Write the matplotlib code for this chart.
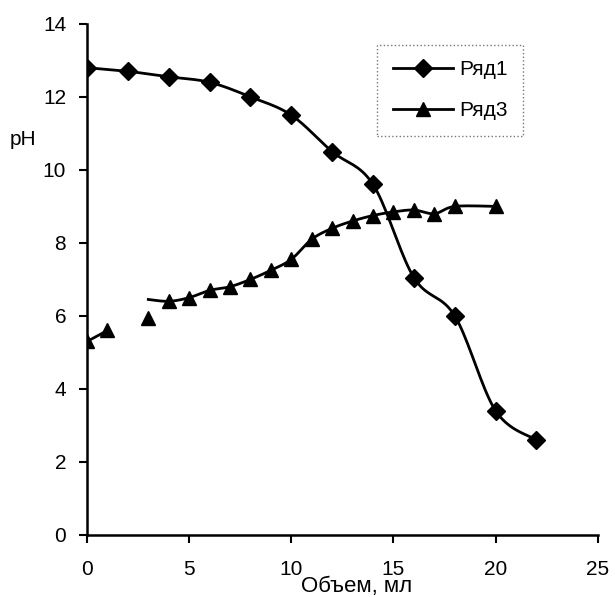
import numpy as np
from matplotlib import pyplot as plt

plt.rcParams['font.family'] = ['Liberation Sans', 'DejaVu Sans']

# Ряд1 (diamonds)
vol1 = [0, 2, 4, 6, 8, 10, 12, 14, 16, 18, 20, 22]
ph1 = [12.8, 12.7, 12.55, 12.4, 12.0, 11.5, 10.5, 9.6, 7.05, 6.0, 3.4, 2.6]

# Ряд3 (triangles)
vol3 = [0, 1, 3, 4, 5, 6, 7, 8, 9, 10, 11, 12, 13, 14, 15, 16, 17, 18, 20]
ph3 = [5.3, 5.6, 5.95, 6.4, 6.5, 6.7, 6.8, 7.0, 7.25, 7.55, 8.1, 8.4, 8.6,
       8.75, 8.85, 8.9, 8.8, 9.0, 9.0]
# the smoothed line of Ряд3 is broken after x=1 and restarts near x=3
line3_start = (3, 6.45)

xticks = [0, 5, 10, 15, 20, 25]
yticks = [0, 2, 4, 6, 8, 10, 12, 14]


def smooth(xs, ys, n=20):
    # Catmull-Rom style smoothing, like the "smoothed line" option in Excel
    xs = np.asarray(xs, float)
    ys = np.asarray(ys, float)
    px = np.concatenate([[xs[0]], xs, [xs[-1]]])
    py = np.concatenate([[ys[0]], ys, [ys[-1]]])
    out_x, out_y = [], []
    t = np.linspace(0, 1, n)
    for i in range(1, len(px) - 2):
        p0x, p1x, p2x, p3x = px[i - 1], px[i], px[i + 1], px[i + 2]
        p0y, p1y, p2y, p3y = py[i - 1], py[i], py[i + 1], py[i + 2]
        c1x = p1x + (p2x - p0x) / 6
        c1y = p1y + (p2y - p0y) / 6
        c2x = p2x - (p3x - p1x) / 6
        c2y = p2y - (p3y - p1y) / 6
        bx = (1 - t) ** 3 * p1x + 3 * (1 - t) ** 2 * t * c1x + 3 * (1 - t) * t ** 2 * c2x + t ** 3 * p2x
        by = (1 - t) ** 3 * p1y + 3 * (1 - t) ** 2 * t * c1y + 3 * (1 - t) * t ** 2 * c2y + t ** 3 * p2y
        out_x.extend(bx)
        out_y.extend(by)
    return out_x, out_y


fig = plt.figure(figsize=(6.15, 5.97), dpi=100)
ax = fig.add_axes([0.1415, 0.104, 0.8305, 0.856])

lw = 2.0
sx, sy = smooth(vol1, ph1)
ax.plot(sx, sy, color='black', lw=lw)
ax.plot(vol1, ph1, 'D', color='black', markersize=9.5)

sx, sy = smooth(vol3[:2], ph3[:2])
ax.plot(sx, sy, color='black', lw=lw)
sx, sy = smooth([line3_start[0]] + vol3[3:], [line3_start[1]] + ph3[3:])
ax.plot(sx, sy, color='black', lw=lw)
ax.plot(vol3, ph3, '^', color='black', markersize=10.5)

# legend handles with line + marker
h1, = ax.plot([], [], '-D', color='black', lw=lw, markersize=9.5)
h3, = ax.plot([], [], '-^', color='black', lw=lw, markersize=10.5)
leg = ax.legend([h1, h3], ['Ряд1', 'Ряд3'], loc='upper left',
                bbox_to_anchor=(0.5675, 0.959), borderaxespad=0,
                fontsize=15, frameon=True, fancybox=False,
                handlelength=2.9, borderpad=0.75, labelspacing=1.05,
                handletextpad=0.3)
leg.get_frame().set_edgecolor('#555555')
leg.get_frame().set_linestyle(':')
leg.get_frame().set_linewidth(1.0)

ax.set_xlim(0, 25)
ax.set_ylim(0, 14)
ax.set_xticks(xticks)
ax.set_yticks(yticks)
ax.tick_params(labelsize=15, width=1.5, length=6, direction='out')
ax.tick_params(axis='x', pad=12)
ax.tick_params(axis='y', pad=9)
ax.spines['top'].set_visible(False)
ax.spines['right'].set_visible(False)
ax.spines['left'].set_linewidth(1.8)
ax.spines['bottom'].set_linewidth(1.8)

ax.set_xlabel('Объем, мл', fontsize=16, va='top')
ax.xaxis.set_label_coords(0.528, -0.081)
ax.set_ylabel('pH', fontsize=15, rotation=0, va='center', ha='center')
ax.yaxis.set_label_coords(-0.125, 0.773)

fig.savefig('out.png', dpi=100)
